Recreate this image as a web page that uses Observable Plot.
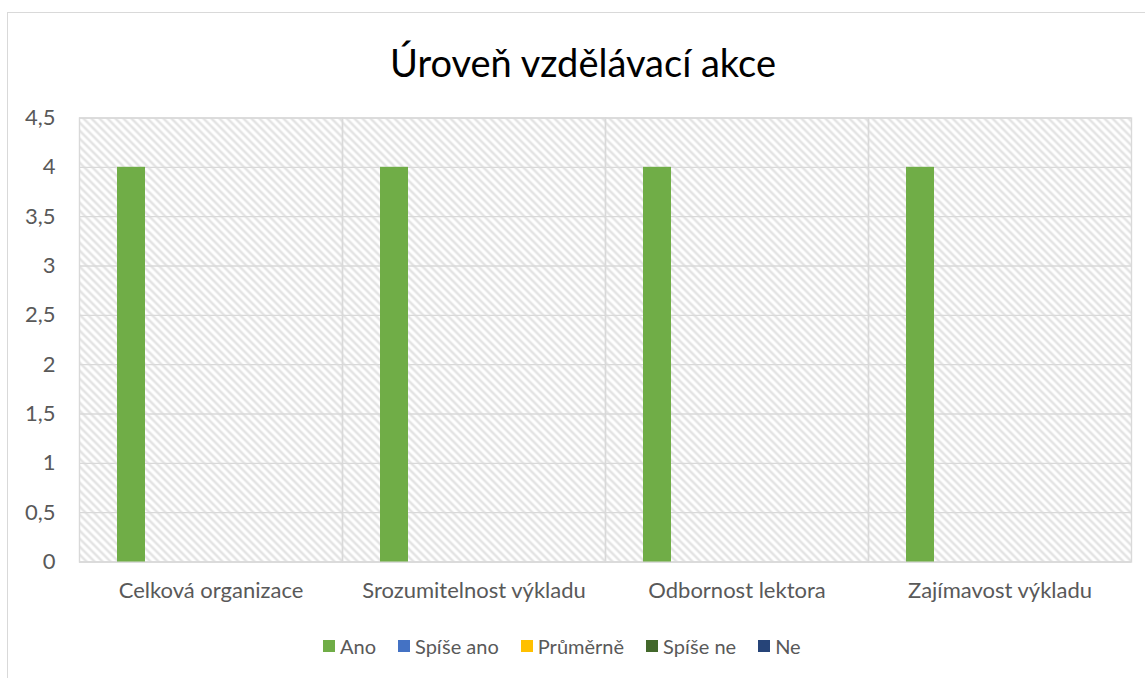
<!DOCTYPE html>
<html>
<head>
<meta charset="utf-8">
<script src="https://cdn.jsdelivr.net/npm/d3@7"></script>
<script src="https://cdn.jsdelivr.net/npm/@observablehq/plot@0.6"></script>
<style>
  body { margin: 0; background: #fff; }
  #wrap { position: relative; width: 1145px; height: 678px; overflow: hidden; font-family: Lato, "Noto Sans", sans-serif; }
  #border { position: absolute; left: 7px; top: 12px; width: 1300px; height: 800px; border: 1.5px solid #d9d9d9; }
  #title { position: absolute; left: 283px; width: 600px; top: 36px; text-align: center; font-size: 38px; color: #000; line-height: 52px; }
  #chart { position: absolute; left: 0; top: 100px; }
  #legend { position: absolute; left: 323px; top: 633px; display: flex; align-items: center; font-size: 20px; color: #595959; line-height: 26px; }
  #legend .item { display: flex; align-items: center; margin-right: 22px; }
  #legend .sw { width: 12px; height: 12px; margin-right: 5px; }
</style>
</head>
<body>
<div id="wrap">
  <div id="border"></div>
  <div id="title">Úroveň vzdělávací akce</div>
  <div id="chart"></div>
  <div id="legend"></div>
</div>
<script>
const categories = ["Celková organizace", "Srozumitelnost výkladu", "Odbornost lektora", "Zajímavost výkladu"];
const series = ["Ano", "Spíše ano", "Průměrně", "Spíše ne", "Ne"];
const colors = ["#70ad47", "#4472c4", "#ffc000", "#43682b", "#264478"];
const valuesAno = [4, 4, 4, 4];
const valuesSpiseAno = [0, 0, 0, 0];
const valuesPrumerne = [0, 0, 0, 0];
const valuesSpiseNe = [0, 0, 0, 0];
const valuesNe = [0, 0, 0, 0];
const yTicks = [0, 0.5, 1, 1.5, 2, 2.5, 3, 3.5, 4, 4.5];

const seriesValues = [valuesAno, valuesSpiseAno, valuesPrumerne, valuesSpiseNe, valuesNe];
const data = [];
categories.forEach((c, i) => {
  series.forEach((s, j) => {
    data.push({category: c, series: s, value: seriesValues[j][i]});
  });
});

const grid = "#d9d9d9";
const plot = Plot.plot({
  width: 1145,
  height: 530,
  marginLeft: 78,
  marginRight: 14,
  marginTop: 17.5,
  marginBottom: 68.5,
  style: {fontFamily: "Lato, 'Noto Sans', sans-serif", color: "#595959", background: "transparent"},
  fx: {domain: categories, padding: 0},
  x: {domain: series, paddingInner: 0.304, paddingOuter: 0.919, axis: null},
  y: {domain: [0, 4.5]},
  color: {domain: series, range: colors},
  marks: [
    Plot.frame({fill: "url(#hatch)", stroke: null}),
    Plot.ruleY(yTicks, {stroke: grid, strokeWidth: 1.4}),
    Plot.frame({stroke: grid, strokeWidth: 1.4}),
    Plot.barY(data, {fx: "category", x: "series", y: "value", fill: "series"}),
    Plot.axisY(yTicks, {tickSize: 0, tickPadding: 24, fontSize: 22, label: null, tickFormat: d => String(d).replace(".", ",")}),
    Plot.axisFx({anchor: "bottom", tickSize: 0, tickPadding: 20, fontSize: 22, label: null})
  ]
});

const ns = "http://www.w3.org/2000/svg";
const defs = document.createElementNS(ns, "defs");
defs.innerHTML = '<pattern id="hatch" patternUnits="userSpaceOnUse" width="8" height="8">' +
  '<rect width="8" height="8" fill="#ffffff"/>' +
  '<path d="M-2,6 L2,10 M0,0 L8,8 M6,-2 L10,2" stroke="#e2e2e2" stroke-width="2.4"/></pattern>';
plot.insertBefore(defs, plot.firstChild);
document.getElementById("chart").appendChild(plot);

const legend = document.getElementById("legend");
series.forEach((s, i) => {
  const item = document.createElement("div");
  item.className = "item";
  const sw = document.createElement("div");
  sw.className = "sw";
  sw.style.background = colors[i];
  const t = document.createElement("span");
  t.textContent = s;
  item.appendChild(sw);
  item.appendChild(t);
  legend.appendChild(item);
});
</script>
</body>
</html>
